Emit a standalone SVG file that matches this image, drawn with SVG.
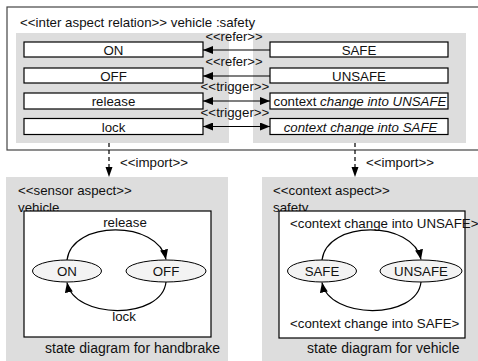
<svg xmlns="http://www.w3.org/2000/svg" width="478" height="361" viewBox="0 0 478 361">
<style>
text{font-family:"Liberation Sans",Arial,sans-serif;font-size:13.3px;fill:#111}
.panel{fill:#dddddd;stroke:none}
.box{fill:#fff;stroke:#000;stroke-width:1.2}
.frame{fill:#fff;stroke:#444;stroke-width:1.2}
.st{fill:#f3f3f3;stroke:#000;stroke-width:1}
.ln{fill:none;stroke:#000;stroke-width:1.2}
.dash{fill:none;stroke:#000;stroke-width:1.2;stroke-dasharray:4,3}
.c{text-anchor:middle}
.it{font-style:italic}
.lbl{font-size:13px}
</style>
<defs>
<marker id="ah" markerUnits="userSpaceOnUse" markerWidth="11" markerHeight="9" refX="10" refY="4" orient="auto">
<path d="M0,0 L10,4 L0,8 z" fill="#000"/>
</marker>
<marker id="ahs" markerUnits="userSpaceOnUse" markerWidth="11" markerHeight="9" refX="0" refY="4" orient="auto">
<path d="M10,0 L0,4 L10,8 z" fill="#000"/>
</marker>
</defs>

<g id="relation">
<rect class="frame" x="7" y="7" width="480" height="143"/>
<text x="20" y="26.5">&lt;&lt;inter aspect relation&gt;&gt; vehicle :safety</text>
<rect class="panel" x="16" y="33" width="213" height="110"/>
<rect class="panel" x="253" y="33" width="213" height="110"/>
</g>

<g id="on-ref"><rect class="box" x="24" y="42" width="179" height="15"/><text class="c" x="113.5" y="55">ON</text></g>
<g id="off-ref"><rect class="box" x="24" y="68" width="179" height="15"/><text class="c" x="113.5" y="80.5">OFF</text></g>
<g id="release-ref"><rect class="box" x="24" y="93" width="179" height="16"/><text class="c" x="113.5" y="106">release</text></g>
<g id="lock-ref"><rect class="box" x="24" y="118.5" width="179" height="16"/><text class="c" x="113.5" y="131.5">lock</text></g>

<g id="safe-ref"><rect class="box" x="270" y="42" width="178" height="15"/><text class="c" x="359" y="55">SAFE</text></g>
<g id="unsafe-ref"><rect class="box" x="270" y="68" width="178" height="15"/><text class="c" x="359" y="80.5">UNSAFE</text></g>
<g id="ctx-unsafe-ref"><rect class="box" x="270" y="93" width="178" height="16"/><text class="c" x="360" y="106">context <tspan class="it">change into UNSAFE</tspan></text></g>
<g id="ctx-safe-ref"><rect class="box" x="270" y="118.5" width="178" height="16"/><text class="c it" x="360.5" y="131.5">context change into SAFE</text></g>

<g id="sensor">
<rect class="panel" x="6" y="177" width="222" height="190"/>
<text x="18" y="195">&lt;&lt;sensor aspect&gt;&gt;</text>
<text x="18" y="212">vehicle</text>
<rect class="box" x="24" y="211" width="187" height="126"/>
<text x="45" y="353" style="font-size:14px">state diagram for handbrake</text>
</g>
<g id="on"><ellipse class="st" cx="67" cy="271" rx="34.5" ry="11"/><text class="c" x="67" y="276">ON</text></g>
<g id="off"><ellipse class="st" cx="166" cy="271" rx="40" ry="11"/><text class="c" x="166" y="276">OFF</text></g>

<g id="context">
<rect class="panel" x="262" y="177" width="230" height="190"/>
<text x="273" y="195">&lt;&lt;context aspect&gt;&gt;</text>
<text x="273" y="212">safety</text>
<rect class="box" x="279" y="211" width="186" height="127"/>
<text x="290" y="327.5">&lt;context change into SAFE&gt;</text>
<text x="307" y="353" style="font-size:14px">state diagram for vehicle</text>
</g>
<g id="safe"><ellipse class="st" cx="322" cy="271" rx="34.5" ry="11"/><text class="c" x="322" y="276">SAFE</text></g>
<g id="unsafe"><ellipse class="st" cx="421" cy="271" rx="41" ry="11"/><text class="c" x="421" y="276">UNSAFE</text></g>
<text x="290" y="227.5">&lt;context change into UNSAFE&gt;</text>

<g id="connectors">
<line class="ln" x1="270" y1="50" x2="203" y2="50" marker-end="url(#ah)"/>
<text class="c lbl" x="234" y="41">&lt;&lt;refer&gt;&gt;</text>
<line class="ln" x1="270" y1="76" x2="203" y2="76" marker-end="url(#ah)"/>
<text class="c lbl" x="234" y="66">&lt;&lt;refer&gt;&gt;</text>
<line class="ln" x1="203" y1="101" x2="270" y2="101" marker-start="url(#ahs)" marker-end="url(#ah)"/>
<text class="c" x="235" y="90.5">&lt;&lt;trigger&gt;&gt;</text>
<line class="ln" x1="203" y1="126.5" x2="270" y2="126.5" marker-start="url(#ahs)" marker-end="url(#ah)"/>
<text class="c" x="235" y="116.5">&lt;&lt;trigger&gt;&gt;</text>

<line class="dash" x1="109" y1="143" x2="109" y2="170"/>
<path d="M105.5,167 L112.5,167 L109,177 z" fill="#000"/>
<text x="120" y="167">&lt;&lt;import&gt;&gt;</text>
<line class="dash" x1="355" y1="143" x2="355" y2="170"/>
<path d="M351.5,167 L358.5,167 L355,177 z" fill="#000"/>
<text x="366" y="167">&lt;&lt;import&gt;&gt;</text>

<path class="ln" d="M67,260 C72,220 158,220 166,259.5" marker-end="url(#ah)"/>
<text class="c" x="125" y="227">release</text>
<path class="ln" d="M166,282 C162,320 74,320 67,282.5" marker-end="url(#ah)"/>
<text class="c" x="124" y="321">lock</text>

<path class="ln" d="M322,260 C327,220 413,220 421,259.5" marker-end="url(#ah)"/>
<path class="ln" d="M421,282 C417,320 329,320 322,282.5" marker-end="url(#ah)"/>
</g>
</svg>
